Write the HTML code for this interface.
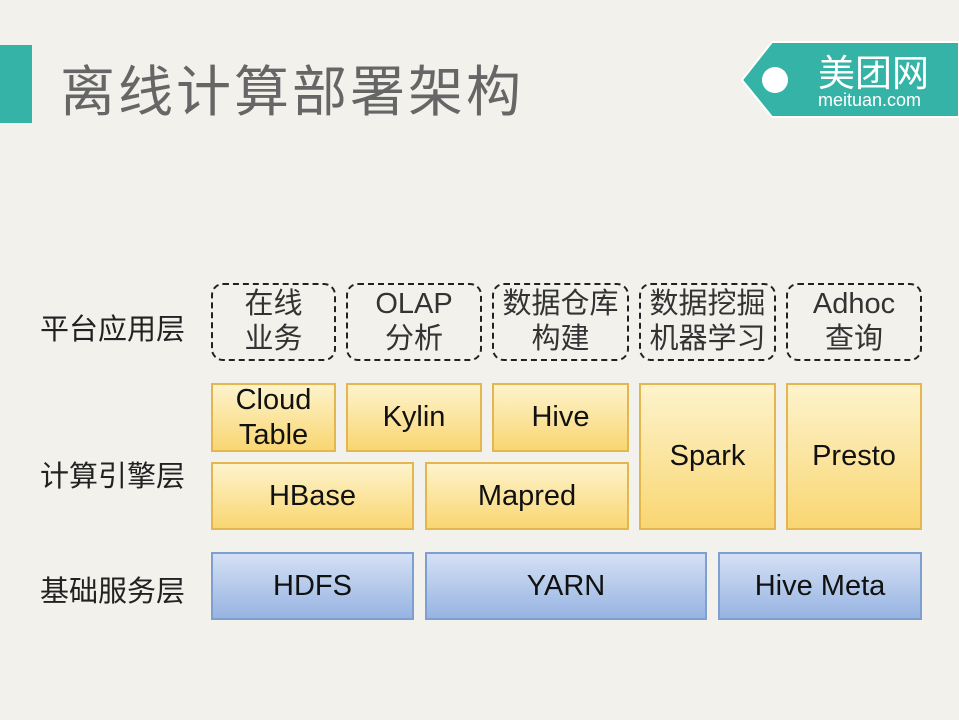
<!DOCTYPE html><html><head><meta charset="utf-8"><style>
body{margin:0;width:959px;height:720px;background:#f2f1ec;position:relative;overflow:hidden;font-family:"Liberation Sans","Noto Sans CJK SC",sans-serif}
.a{position:absolute}
.b{position:absolute;box-sizing:border-box;display:flex;align-items:center;justify-content:center;text-align:center;font-size:29px;line-height:35px;color:#111}
.d{border:2.5px dashed #222;border-radius:12px;color:#333}
.y{border:2px solid #e3b650;background:linear-gradient(#fdf3cc,#f9d672)}
.u{border:2px solid #7f9fd0;background:linear-gradient(#d4e0f4,#97b4e2)}
.l{position:absolute;left:40px;font-size:29px;color:#222;font-family:"Liberation Sans","Noto Sans CJK SC",sans-serif}
</style></head><body>
<div class="a" style="left:0;top:45px;width:32px;height:78px;background:#35b3a6"></div>
<div class="a" style="left:60px;top:47px;font-size:55px;color:#666;letter-spacing:3px">离线计算部署架构</div>
<svg class="a" style="left:740px;top:40px" width="219" height="80"><polygon points="32,2 219,2 219,77 32,77 2,40" fill="#35b3a6" stroke="#fff" stroke-width="2"/><circle cx="35" cy="40" r="13" fill="#fff"/><text x="78" y="46" font-size="37" fill="#fff" font-family="Noto Sans CJK SC,sans-serif">美团网</text><text x="78" y="66" font-size="18" fill="#fff" font-family="Liberation Sans,sans-serif">meituan.com</text></svg>
<div class="l" style="top:306px">平台应用层</div>
<div class="l" style="top:453px">计算引擎层</div>
<div class="l" style="top:568px">基础服务层</div>
<div class="b d" style="left:211px;top:283px;width:125px;height:78px">在线<br>业务</div>
<div class="b d" style="left:346px;top:283px;width:136px;height:78px">OLAP<br>分析</div>
<div class="b d" style="left:492px;top:283px;width:137px;height:78px">数据仓库<br>构建</div>
<div class="b d" style="left:639px;top:283px;width:137px;height:78px">数据挖掘<br>机器学习</div>
<div class="b d" style="left:786px;top:283px;width:136px;height:78px">Adhoc<br>查询</div>
<div class="b y" style="left:211px;top:383px;width:125px;height:69px">Cloud<br>Table</div>
<div class="b y" style="left:346px;top:383px;width:136px;height:69px">Kylin</div>
<div class="b y" style="left:492px;top:383px;width:137px;height:69px">Hive</div>
<div class="b y" style="left:639px;top:383px;width:137px;height:147px">Spark</div>
<div class="b y" style="left:786px;top:383px;width:136px;height:147px">Presto</div>
<div class="b y" style="left:211px;top:462px;width:203px;height:68px">HBase</div>
<div class="b y" style="left:425px;top:462px;width:204px;height:68px">Mapred</div>
<div class="b u" style="left:211px;top:552px;width:203px;height:68px">HDFS</div>
<div class="b u" style="left:425px;top:552px;width:282px;height:68px">YARN</div>
<div class="b u" style="left:718px;top:552px;width:204px;height:68px">Hive Meta</div>
</body></html>
